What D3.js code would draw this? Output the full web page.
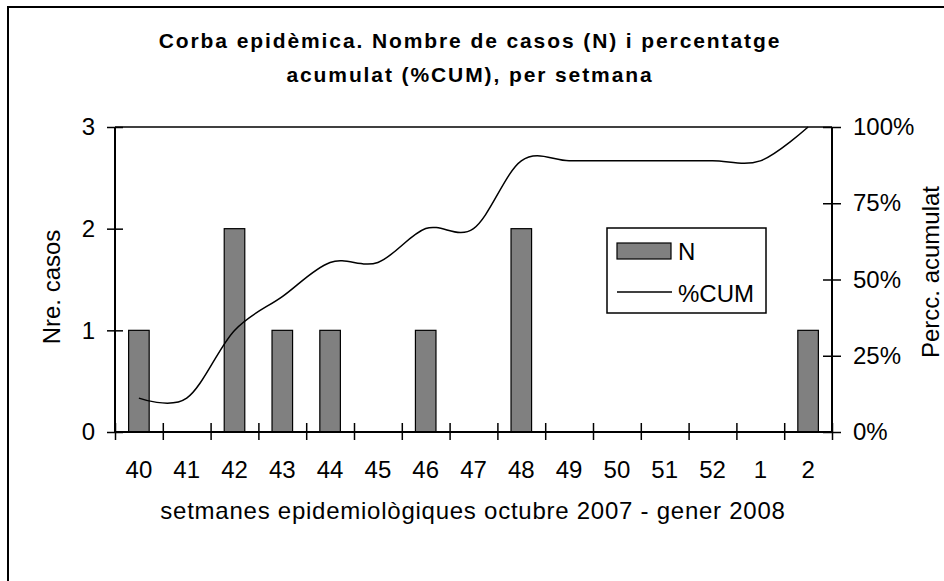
<!DOCTYPE html>
<html>
<head>
<meta charset="utf-8">
<script src="https://cdn.jsdelivr.net/npm/d3@7"></script>
<style>
  body { margin: 0; background: #fff; }
  svg text { font-family: "Liberation Sans", Arial, sans-serif; fill: #000; }
</style>
</head>
<body>
<div id="chart"></div>
<script>
const width = 944;
const height = 581;
const margin = { top: 127, right: 112, bottom: 149, left: 115 };

// weeks and values
const weeks = ["40", "41", "42", "43", "44", "45", "46", "47", "48", "49", "50", "51", "52", "1", "2"];
const cases = [1, 0, 2, 1, 1, 0, 1, 0, 2, 0, 0, 0, 0, 0, 1];
const cumPct = [11.1, 11.1, 33.3, 44.4, 55.6, 55.6, 66.7, 66.7, 88.9, 88.9, 88.9, 88.9, 88.9, 88.9, 100];
const leftTicks = [0, 1, 2, 3];
const rightTicks = [0, 25, 50, 75, 100];

const svg = d3.select("#chart").append("svg").attr("width", width).attr("height", height);

const x0 = margin.left, x1 = width - margin.right;
const y0 = height - margin.bottom, y1 = margin.top;

const x = d3.scaleBand().domain(weeks).range([x0, x1]).padding(0);
const xEdge = d3.scaleLinear().domain([0, weeks.length]).range([x0, x1]);
const yN = d3.scaleLinear().domain([0, 3]).range([y0, y1]);
const yP = d3.scaleLinear().domain([0, 100]).range([y0, y1]);

// outer frame (only top and left visible)
svg.append("path").attr("d", `M8,${height} V7 H${width}`)
  .attr("fill", "none").attr("stroke", "#000").attr("stroke-width", 2);

// title
const title = svg.append("text").attr("text-anchor", "middle")
  .attr("font-size", 21).attr("font-weight", "bold").attr("letter-spacing", 1.9);
title.append("tspan").attr("x", 470).attr("y", 48).text("Corba epidèmica. Nombre de casos (N) i percentatge");
title.append("tspan").attr("x", 470).attr("y", 82).text("acumulat (%CUM), per setmana");

// top line of plot area
svg.append("line").attr("x1", x0).attr("x2", x1).attr("y1", y1).attr("y2", y1)
  .attr("stroke", "#000").attr("stroke-width", 1.5);

// bars
const barW = x.bandwidth() * 0.43;
svg.selectAll(".bar").data(weeks.map((w, i) => ({ w, n: cases[i] })).filter(d => d.n > 0))
  .enter().append("rect").attr("class", "bar")
  .attr("x", d => x(d.w) + (x.bandwidth() - barW) / 2)
  .attr("y", d => yN(d.n))
  .attr("width", barW)
  .attr("height", d => y0 - yN(d.n))
  .attr("fill", "#808080").attr("stroke", "#000").attr("stroke-width", 1.2);

// cumulative line (smoothed)
const line = d3.line()
  .x((d, i) => x(weeks[i]) + x.bandwidth() / 2)
  .y(d => yP(d))
  .curve(d3.curveCatmullRom.alpha(0));
svg.append("path").datum(cumPct).attr("d", line)
  .attr("fill", "none").attr("stroke", "#000").attr("stroke-width", 1.5);

// x axis: cross ticks at band edges
const xAxis = svg.append("g").attr("transform", `translate(0,${y0})`)
  .call(d3.axisBottom(xEdge).tickValues(d3.range(weeks.length + 1)).tickSize(8).tickFormat(""));
xAxis.select(".domain").attr("d", `M${x0},0H${x1}`).attr("stroke-width", 2);
xAxis.selectAll(".tick line").attr("y1", -9).attr("y2", 8).attr("stroke-width", 1.5);

const xLabels = svg.append("g").attr("transform", `translate(0,${y0})`)
  .call(d3.axisBottom(x).tickSize(0).tickPadding(46));
xLabels.select(".domain").remove();
xLabels.selectAll("text").attr("font-size", 24).attr("font-family", null).attr("dy", 0);

// left axis
const yAxisL = svg.append("g").attr("transform", `translate(${x0},0)`)
  .call(d3.axisLeft(yN).tickValues(leftTicks).tickSize(8).tickPadding(12).tickFormat(d3.format("d")));
yAxisL.select(".domain").attr("d", `M0,${y0}V${y1}`).attr("stroke-width", 2);
yAxisL.selectAll(".tick line").attr("x1", 8).attr("x2", -8).attr("stroke-width", 1.5);
yAxisL.selectAll("text").attr("font-size", 24).attr("font-family", null);

// right axis
const yAxisR = svg.append("g").attr("transform", `translate(${x1},0)`)
  .call(d3.axisRight(yP).tickValues(rightTicks).tickSize(9).tickPadding(12).tickFormat(d => d + "%"));
yAxisR.select(".domain").attr("d", `M0,${y0}V${y1}`).attr("stroke-width", 2);
yAxisR.selectAll(".tick line").attr("x1", -9).attr("x2", 9).attr("stroke-width", 1.5);
yAxisR.selectAll("text").attr("font-size", 24).attr("font-family", null);

// axis titles
svg.append("text").attr("x", 473).attr("y", 519).attr("text-anchor", "middle")
  .attr("font-size", 24).attr("letter-spacing", 0.75)
  .text("setmanes epidemiològiques octubre 2007 - gener 2008");
svg.append("text").attr("transform", "translate(60,287) rotate(-90)")
  .attr("text-anchor", "middle").attr("font-size", 24).text("Nre. casos");
svg.append("text").attr("transform", "translate(939,272) rotate(-90)")
  .attr("text-anchor", "middle").attr("font-size", 24).text("Percc. acumulat");

// legend
const lg = svg.append("g").attr("transform", "translate(607,228)");
lg.append("rect").attr("width", 159).attr("height", 85)
  .attr("fill", "#fff").attr("stroke", "#000").attr("stroke-width", 1.5);
lg.append("rect").attr("x", 10).attr("y", 15).attr("width", 54).attr("height", 16)
  .attr("fill", "#808080").attr("stroke", "#000").attr("stroke-width", 1.2);
lg.append("text").attr("x", 71).attr("y", 32).attr("font-size", 24).text("N");
lg.append("line").attr("x1", 10).attr("x2", 65).attr("y1", 64).attr("y2", 64)
  .attr("stroke", "#000").attr("stroke-width", 1.5);
lg.append("text").attr("x", 71).attr("y", 74).attr("font-size", 24).text("%CUM");
</script>
</body>
</html>
